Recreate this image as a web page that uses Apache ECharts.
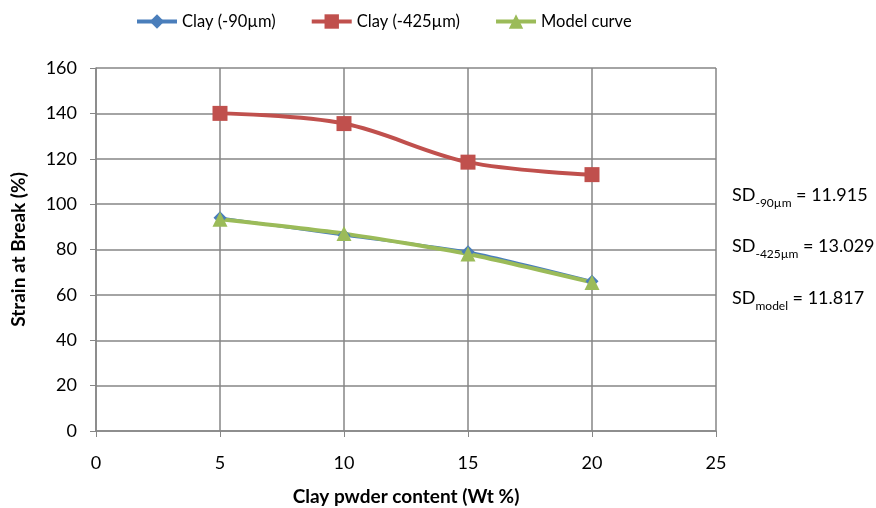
<!DOCTYPE html>
<html><head><meta charset="utf-8">
<script src="https://cdn.jsdelivr.net/npm/echarts@6/dist/echarts.min.js"></script>
<style>html,body{margin:0;padding:0;background:#fff}#c{width:876px;height:508px}</style>
</head><body><div id="c"></div>
<script>
const xValues = [5, 10, 15, 20];
const clay90 = [94, 86.3, 79, 66];
const clay425 = [140, 135.5, 118.5, 113];
const model = [93.3, 87, 78, 65.5];
const seriesNames = ['Clay (-90µm)', 'Clay (-425µm)', 'Model curve'];
const xTicks = [0, 5, 10, 15, 20, 25];
const yTicks = [0, 20, 40, 60, 80, 100, 120, 140, 160];

const F = 'Lato, "Open Sans", sans-serif';
const chart = echarts.init(document.getElementById('c'));
const pairs = a => xValues.map((x, i) => [x, a[i]]);
const rich = {
  a: {fontFamily: F, fontSize: 18, color: '#000', verticalAlign: 'bottom', padding: [0, 0, 5, 0]},
  s: {fontFamily: F, fontSize: 12, color: '#000', verticalAlign: 'bottom'}
};
chart.setOption({
  animation: false,
  grid: {left: 96, right: 160, top: 68, bottom: 77, containLabel: false, outerBoundsMode: 'none'},
  legend: {
    top: 8, left: 130, itemGap: 34, itemWidth: 40, itemHeight: 18,
    textStyle: {fontFamily: F, fontSize: 16.5, color: '#000'},
    lineStyle: {width: 4},
    data: seriesNames
  },
  xAxis: {
    type: 'value', min: 0, max: 25, interval: 5,
    name: 'Clay pwder content (Wt %)', nameLocation: 'middle', nameGap: 56,
    nameTextStyle: {fontFamily: F, fontSize: 19, fontWeight: 'bold', color: '#000'},
    axisLine: {show: true, lineStyle: {color: '#868686', width: 1.5}},
    axisTick: {show: true, length: 6, lineStyle: {color: '#868686'}},
    axisLabel: {fontFamily: F, fontSize: 18, color: '#000', margin: 23},
    splitLine: {show: true, lineStyle: {color: '#868686', width: 1.5}}
  },
  yAxis: {
    type: 'value', min: 0, max: 160, interval: 20,
    name: 'Strain at Break (%)', nameLocation: 'middle', nameGap: 68, nameRotate: 90,
    nameTextStyle: {fontFamily: F, fontSize: 19, fontWeight: 'bold', color: '#000'},
    axisLine: {show: true, lineStyle: {color: '#868686', width: 1.5}},
    axisTick: {show: true, length: 6, lineStyle: {color: '#868686'}},
    axisLabel: {fontFamily: F, fontSize: 18, color: '#000', margin: 19},
    splitLine: {show: true, lineStyle: {color: '#868686', width: 1.5}}
  },
  series: [
    {name: seriesNames[0], type: 'line', data: pairs(clay90), smooth: 0.2,
     symbol: 'diamond', symbolSize: 13,
     itemStyle: {color: '#4a7ebb'}, lineStyle: {color: '#4a7ebb', width: 2.5}},
    {name: seriesNames[1], type: 'line', data: pairs(clay425), smooth: 0.35,
     symbol: 'rect', symbolSize: 15,
     itemStyle: {color: '#c0504d'}, lineStyle: {color: '#c0504d', width: 4}},
    {name: seriesNames[2], type: 'line', data: pairs(model), smooth: 0.2,
     symbol: 'triangle', symbolSize: 15,
     itemStyle: {color: '#9bbb59'}, lineStyle: {color: '#9bbb59', width: 4}}
  ],
  graphic: [
    {type: 'text', left: 732, top: 186, style: {text: '{a|SD}{s|-90µm}{a| = 11.915}', rich: rich}},
    {type: 'text', left: 732, top: 237, style: {text: '{a|SD}{s|-425µm}{a| = 13.029}', rich: rich}},
    {type: 'text', left: 732, top: 289, style: {text: '{a|SD}{s|model}{a| = 11.817}', rich: rich}}
  ]
});
</script></body></html>
